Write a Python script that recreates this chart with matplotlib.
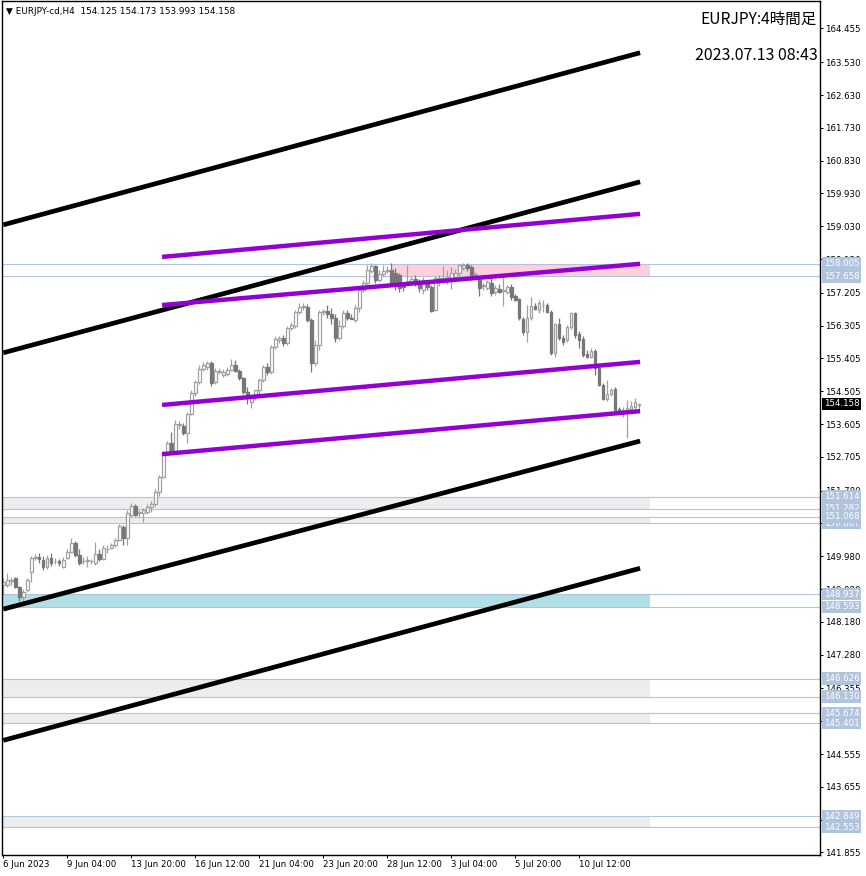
import matplotlib.pyplot as plt
from matplotlib.transforms import offset_copy

# EURJPY H4 candles, 6 Jun 2023 12:00 -> 13 Jul 2023 00:00 (160 bars)
opens = [
    149.19, 149.19, 149.30, 149.38, 149.14, 148.86, 149.05, 149.54, 149.93, 149.95,
    149.87, 149.68, 149.93, 149.84, 149.84, 149.68, 149.93, 150.09, 150.34, 150.01,
    149.84, 149.84, 149.84, 149.79, 150.04, 149.90, 150.17, 150.20, 150.28, 150.42,
    150.78, 150.48, 151.11, 151.36, 151.16, 151.16, 151.19, 151.33, 151.41, 151.74,
    152.15, 152.81, 153.08, 152.87, 153.58, 153.55, 153.36, 153.88, 154.46, 154.76,
    155.12, 155.17, 155.28, 154.76, 155.03, 154.95, 154.98, 155.09, 155.23, 155.06,
    154.87, 154.49, 154.21, 154.35, 154.54, 154.82, 155.17, 155.03, 155.72, 155.91,
    155.97, 155.83, 156.24, 156.30, 156.68, 156.82, 156.82, 156.46, 155.28, 155.78,
    156.68, 156.71, 156.63, 156.52, 155.97, 156.30, 156.65, 156.52, 156.46, 156.79,
    157.29, 157.48, 157.81, 157.95, 157.56, 157.73, 157.81, 157.84, 157.75, 157.70,
    157.40, 157.53, 157.51, 157.59, 157.48, 157.29, 157.48, 157.37, 156.74, 157.51,
    157.59, 157.56, 157.62, 157.64, 157.75, 157.89, 157.97, 157.92, 157.70, 157.56,
    157.40, 157.34, 157.48, 157.23, 157.31, 157.26, 157.23, 157.37, 157.12, 157.04,
    156.49, 156.13, 156.52, 156.85, 156.74, 156.87, 156.87, 156.68, 155.56, 156.35,
    155.97, 155.91, 156.27, 156.65, 156.08, 155.94, 155.53, 155.45, 155.61, 155.14,
    154.68, 154.29, 154.43, 154.57, 154.02, 153.96, 153.99, 154.02, 154.07, 154.125,
]
highs = [
    149.38, 149.52, 149.41, 149.41, 149.16, 149.08, 149.38, 149.98, 150.04, 150.06,
    149.98, 150.01, 150.06, 149.93, 149.90, 149.95, 150.17, 150.48, 150.39, 150.17,
    149.95, 149.98, 149.90, 150.37, 150.17, 150.28, 150.28, 150.34, 150.48, 150.86,
    150.83, 151.25, 151.44, 151.41, 151.25, 151.30, 151.41, 151.49, 151.82, 152.21,
    152.87, 153.14, 153.39, 153.72, 153.69, 153.63, 153.94, 154.54, 154.82, 155.23,
    155.31, 155.34, 155.34, 155.14, 155.14, 155.12, 155.17, 155.39, 155.36, 155.12,
    154.90, 154.62, 154.40, 154.54, 154.87, 155.23, 155.28, 155.78, 156.02, 156.02,
    156.05, 156.30, 156.41, 156.74, 156.93, 156.93, 156.90, 156.52, 155.91, 156.74,
    156.76, 156.87, 156.79, 156.63, 156.46, 156.74, 156.74, 156.63, 156.87, 157.34,
    157.56, 157.97, 158.03, 157.97, 157.84, 157.97, 157.95, 158.03, 157.89, 157.75,
    157.51, 157.97, 157.67, 157.70, 157.59, 157.64, 157.56, 157.42, 157.67, 157.70,
    157.95, 157.84, 157.92, 157.86, 158.00, 158.03, 158.03, 157.97, 157.78, 157.62,
    157.48, 157.56, 157.62, 157.42, 157.45, 157.70, 157.42, 157.45, 157.18, 157.07,
    156.55, 156.87, 157.09, 156.93, 157.01, 157.01, 156.93, 156.74, 156.38, 156.52,
    156.05, 156.33, 156.68, 156.68, 156.16, 156.02, 155.64, 155.69, 155.67, 155.20,
    154.73, 154.82, 154.60, 154.62, 154.07, 154.07, 154.27, 154.24, 154.32, 154.173,
]
lows = [
    148.91, 149.14, 149.19, 149.11, 148.75, 148.72, 148.99, 149.27, 149.87, 149.79,
    149.60, 149.63, 149.71, 149.76, 149.71, 149.65, 149.90, 150.07, 149.95, 149.74,
    149.76, 149.68, 149.76, 149.74, 149.84, 149.87, 150.07, 150.17, 150.23, 150.39,
    150.28, 150.28, 151.05, 151.08, 151.05, 150.92, 151.14, 151.19, 151.35, 151.63,
    152.12, 152.78, 152.84, 152.81, 153.47, 153.30, 153.08, 153.85, 154.38, 154.70,
    155.06, 155.09, 154.65, 154.70, 154.98, 154.90, 154.93, 155.06, 155.03, 154.82,
    154.43, 154.16, 154.05, 154.27, 154.40, 154.76, 154.95, 154.98, 155.67, 155.83,
    155.75, 155.78, 156.19, 156.24, 156.63, 156.74, 156.41, 155.03, 155.20, 155.64,
    156.60, 156.52, 156.35, 155.86, 155.91, 156.24, 156.46, 156.49, 156.41, 156.68,
    157.23, 157.42, 157.75, 157.48, 157.51, 157.67, 157.75, 157.42, 157.29, 157.23,
    157.26, 157.40, 157.42, 157.40, 157.23, 157.18, 157.29, 156.68, 156.71, 157.40,
    157.48, 157.45, 157.31, 157.56, 157.67, 157.84, 157.81, 157.56, 157.62, 157.12,
    157.29, 157.29, 157.12, 157.15, 157.20, 156.85, 157.18, 157.01, 156.98, 156.46,
    156.05, 155.86, 156.46, 156.74, 156.65, 156.68, 156.65, 155.50, 155.45, 155.91,
    155.78, 155.86, 156.22, 155.97, 155.69, 155.45, 155.42, 155.42, 154.95, 154.65,
    154.27, 154.24, 154.38, 153.96, 153.91, 153.80, 153.22, 153.96, 154.02, 153.993,
]
closes = [
    149.27, 149.32, 149.32, 149.14, 148.86, 148.99, 149.32, 149.93, 149.95, 149.90,
    149.68, 149.93, 149.79, 149.85, 149.79, 149.87, 150.09, 150.34, 150.01, 149.79,
    149.85, 149.87, 149.85, 150.04, 149.90, 150.20, 150.18, 150.28, 150.42, 150.81,
    150.48, 151.16, 151.36, 151.11, 151.19, 151.25, 151.33, 151.41, 151.74, 152.15,
    152.81, 153.08, 152.87, 153.61, 153.61, 153.36, 153.88, 154.46, 154.76, 155.12,
    155.23, 155.28, 154.73, 155.06, 155.06, 155.03, 155.09, 155.23, 155.06, 154.87,
    154.49, 154.35, 154.35, 154.54, 154.82, 155.17, 155.03, 155.72, 155.94, 155.97,
    155.83, 156.24, 156.33, 156.68, 156.82, 156.85, 156.46, 155.28, 155.78, 156.68,
    156.71, 156.63, 156.52, 155.97, 156.30, 156.65, 156.52, 156.50, 156.79, 157.29,
    157.48, 157.84, 157.95, 157.56, 157.73, 157.81, 157.84, 157.48, 157.42, 157.34,
    157.37, 157.54, 157.59, 157.48, 157.34, 157.56, 157.37, 156.71, 157.62, 157.62,
    157.62, 157.64, 157.75, 157.75, 157.97, 157.97, 157.89, 157.70, 157.71, 157.34,
    157.42, 157.51, 157.20, 157.34, 157.23, 157.27, 157.37, 157.10, 157.01, 156.52,
    156.13, 156.52, 156.85, 156.76, 156.93, 156.88, 156.68, 155.56, 156.35, 155.97,
    155.86, 156.27, 156.65, 156.05, 155.91, 155.50, 155.45, 155.61, 155.14, 154.68,
    154.29, 154.43, 154.54, 153.99, 153.94, 153.99, 154.05, 154.10, 154.21, 154.158,
]

# time axis labels (every 16 bars)
date_labels = ["6 Jun 2023", "9 Jun 04:00", "13 Jun 20:00", "16 Jun 12:00", "21 Jun 04:00",
               "23 Jun 20:00", "28 Jun 12:00", "3 Jul 04:00", "5 Jul 20:00", "10 Jul 12:00"]
date_bars = [0, 16, 32, 48, 64, 80, 96, 112, 128, 144]

price_ticks = [164.455, 163.530, 162.630, 161.730, 160.830, 159.930, 159.030, 158.130,
               157.205, 156.305, 155.405, 154.505, 153.605, 152.705, 151.780, 150.880,
               149.980, 149.080, 148.180, 147.280, 146.355, 145.455, 144.555, 143.655,
               142.755, 141.855]

# rectangles (support / resistance zones)
zone_hi = [158.005, 151.614, 151.068, 148.937, 146.626, 145.674, 142.849]
zone_lo = [157.658, 151.282, 150.887, 148.593, 146.130, 145.401, 142.553]
zone_colors = ["#FFD0DA", "#EDEDEF", "#EDEDEF", "#B0E0E6", "#EDEDEF", "#EDEDEF", "#EDEDEF"]
zone_start = [96.8, -0.4, -0.4, -0.4, -0.4, -0.4, -0.4]
zone_end = 161.7

# trend channels: price at first / last anchor bar
black_bars = [0, 159.2]
black_start = [159.07, 155.56, 148.53, 144.93]
black_end = [163.79, 160.25, 153.14, 149.65]
purple_bars = [39.7, 159.2]
purple_start = [158.19, 156.87, 154.13, 152.78]
purple_end = [159.37, 158.00, 155.31, 153.96]

last_price = 154.158

plt.rcParams['font.family'] = ['DejaVu Sans']
small = 6.2

fig = plt.figure(figsize=(8.66, 8.76), dpi=100)
ax = fig.add_axes([2/866, 21/876, 818/866, 854/876])

# zones and their edge lines
for hi, lo, col, x0 in zip(zone_hi, zone_lo, zone_colors, zone_start):
    ax.fill_between([x0, zone_end], lo, hi, color=col, lw=0, zorder=0.5)
    ax.axhline(hi, color="#B0C4DE", lw=0.8, zorder=1)
    ax.axhline(lo, color="#B0C4DE", lw=0.8, zorder=1)

# candles
for i in range(len(closes)):
    o, h, l, c = opens[i], highs[i], lows[i], closes[i]
    if c >= o:
        edge, face = "#A0A0A0", "white"
    else:
        edge, face = "#777777", "#777777"
    ax.vlines(i, l, h, color=edge, lw=0.9, zorder=2)
    ax.bar(i, max(abs(c - o), 0.012), bottom=min(o, c), width=0.6,
           facecolor=face, edgecolor=edge, linewidth=0.9, zorder=2.2)

# channels
for s, e in zip(black_start, black_end):
    ax.plot(black_bars, [s, e], color="black", lw=3.4, solid_capstyle="butt", zorder=4)
for s, e in zip(purple_start, purple_end):
    ax.plot(purple_bars, [s, e], color="#9400D3", lw=3.2, solid_capstyle="butt", zorder=4)

ax.set_xlim(-0.325, 204.175)
ax.set_ylim(141.786, 165.209)

ax.yaxis.tick_right()
ax.set_yticks(price_ticks)
ax.set_yticklabels([f"{v:.3f}" for v in price_ticks])
ax.set_xticks(date_bars)
ax.set_xticklabels(date_labels, ha="left")
ax.tick_params(axis="both", direction="out", length=2.3, width=0.7, pad=1.5,
               labelsize=small, colors="black")
for sp in ax.spines.values():
    sp.set_linewidth(1.0)

# price labels on the right axis
trans = offset_copy(ax.get_yaxis_transform(), fig=fig, x=4, y=0, units="dots")
for hi, lo in zip(zone_hi, zone_lo):
    for v in (lo, hi):
        ax.text(1, v, f"{v:.3f}", transform=trans, ha="left", va="center",
                fontsize=small, color="white", clip_on=False, zorder=6,
                bbox=dict(boxstyle="square,pad=0.2", fc="#B0C4DE", ec="none"))
ax.text(1, last_price, f"{last_price:.3f}", transform=trans, ha="left", va="center",
        fontsize=small, color="white", clip_on=False, zorder=7,
        bbox=dict(boxstyle="square,pad=0.2", fc="black", ec="none"))

# headers
fig.text(6/866, 1 - 11/876, "\u25bc EURJPY-cd,H4  154.125 154.173 153.993 154.158",
         fontsize=6.4, va="center", ha="left")
fig.text(817/866, 1 - 19/876, "EURJPY:4時間足", fontsize=11.2, va="center", ha="right",
         family=["Noto Sans CJK JP", "DejaVu Sans"])
fig.text(818/866, 1 - 55/876, "2023.07.13 08:43", fontsize=11.5, va="center", ha="right",
         family=["Noto Sans CJK JP", "DejaVu Sans"])

fig.savefig("out.png", dpi=100)
